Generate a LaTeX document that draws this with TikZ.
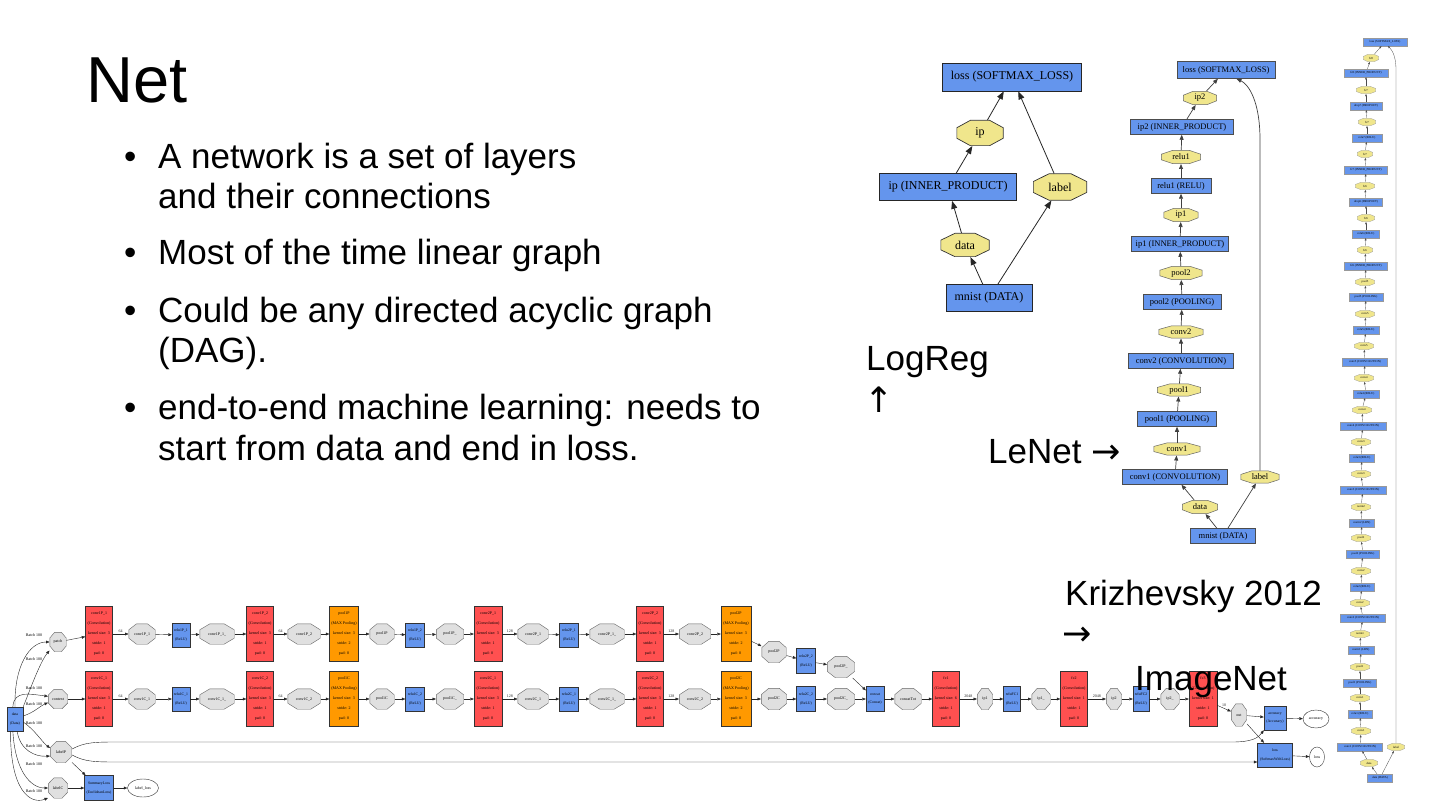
\documentclass[tikz,border=0pt]{standalone}
\usepackage{fontspec}
\setmainfont{Liberation Sans}
\newfontfamily\gv{Liberation Serif}
\newfontfamily\arrowf{DejaVu Sans}
\usetikzlibrary{arrows.meta,calc,shapes.geometric}
\definecolor{lblue}{HTML}{6495ED}
\definecolor{khaki}{HTML}{F0E68C}
\definecolor{blobgray}{HTML}{E0E0E0}
\definecolor{convred}{HTML}{FF5050}
\definecolor{poolorange}{HTML}{FF9900}
\newcommand\convlab[4]{#1\\(Convolution)\\kernel size: #2\\stride: #3\\pad: #4}
\newcommand\poollab[4]{#1\\(MAX Pooling)\\kernel size: #2\\stride: #3\\pad: #4}
\tikzset{
 oct/.style n args={3}{rectangle, inner sep=0pt, outer sep=0pt, path picture={
   \path[fill=#1, draw=#2, line width=#3] let \p1=($(path picture bounding box.south west)+(.3pt,.3pt)$), \p2=($(path picture bounding box.north east)+(-.3pt,-.3pt)$), \n1={\x2-\x1}, \n2={\y2-\y1} in (\x1+.293*\n1,\y1) -- (\x2-.293*\n1,\y1) -- (\x2,\y1+.293*\n2) -- (\x2,\y2-.293*\n2) -- (\x2-.293*\n1,\y2) -- (\x1+.293*\n1,\y2) -- (\x1,\y2-.293*\n2) -- (\x1,\y1+.293*\n2) -- cycle;}},
 txt/.style={anchor=base west, inner sep=0pt, font=\fontsize{35}{42}\selectfont},
 lrbox/.style={rectangle, draw=black!85, fill=lblue, line width=.7pt, inner sep=0pt, font=\gv\fontsize{12}{12}\selectfont},
 lrblob/.style={oct={khaki}{black!80}{.7pt}, font=\gv\fontsize{12}{12}\selectfont},
 lrarr/.style={-{Triangle[length=8pt,width=6pt]}, line width=.8pt, black!85},
 lnbox/.style={rectangle, draw=black!70, fill=lblue, line width=.5pt, inner sep=0pt, minimum height=15, font=\gv\fontsize{8.5}{8.5}\selectfont},
 lnblob/.style={oct={khaki}{black!60}{.5pt}, minimum height=14, font=\gv\fontsize{8.5}{8.5}\selectfont},
 lnarr/.style={-{Triangle[length=5pt,width=4pt]}, line width=.7pt, black!75},
 tbox/.style={rectangle, draw=black!40, fill=lblue, line width=.25pt, inner sep=0pt, minimum height=8, font=\gv\fontsize{3}{3}\selectfont},
 tblob/.style={oct={khaki}{black!40}{.25pt}, minimum height=8, font=\gv\fontsize{3}{3}\selectfont},
 tarr/.style={-{Triangle[length=2.2pt,width=1.8pt]}, line width=.3pt, black!70},
 gred/.style={rectangle, draw=black!80, fill=convred, line width=.4pt, inner sep=0pt, minimum width=27, minimum height=55, align=center, font=\gv\fontsize{4}{10}\selectfont},
 gorange/.style={gred, fill=poolorange},
 gblue/.style={rectangle, draw=black!80, fill=lblue, line width=.4pt, inner sep=0pt, minimum width=18, minimum height=24, align=center, font=\gv\fontsize{3.8}{8.5}\selectfont},
 gblob/.style={oct={blobgray}{black!60}{.4pt}, minimum width=27, minimum height=21, font=\gv\fontsize{4}{4}\selectfont},
 gell/.style={ellipse, draw=black!80, line width=.4pt, inner sep=0pt, font=\gv\fontsize{4}{4}\selectfont},
 garr/.style={-{Triangle[length=3.5pt,width=2.8pt]}, line width=.4pt, black!85},
 glbl/.style={inner sep=0pt, font=\gv\fontsize{4}{4}\selectfont},
}
\begin{document}
\begin{tikzpicture}[x=1pt,y=-1pt]
\useasboundingbox (0,0) rectangle (1440,810);
\fill[white] (0,0) rectangle (1440,810);

% ---------------- LogReg ----------------
\node[lrbox, minimum width=139, minimum height=28] (lrloss) at (1012,77) {loss (SOFTMAX\_LOSS)};
\node[lrblob, minimum width=47, minimum height=26] (lrip) at (980,133) {ip};
\node[lrbox, minimum width=137, minimum height=27] (lripl) at (948,187) {ip (INNER\_PRODUCT)};
\node[lrblob, minimum width=54, minimum height=27] (lrlabel) at (1060,187) {label};
\node[lrblob, minimum width=49, minimum height=24] (lrdata) at (965,245) {data};
\node[lrbox, minimum width=86, minimum height=27] (lrmnist) at (989,298) {mnist (DATA)};
\draw[lrarr] (lrmnist) -- (lrdata);
\draw[lrarr] (lrmnist) -- (lrlabel);
\draw[lrarr] (lrdata) -- (lripl);
\draw[lrarr] (lripl) -- (lrip);
\draw[lrarr] (lrip) -- (lrloss);
\draw[lrarr] (lrlabel) -- (lrloss);

% ---------------- LeNet ----------------
\node[lnbox, minimum width=98, minimum height=17] (lloss) at (1226,70) {loss (SOFTMAX\_LOSS)};
\node[lnblob, minimum width=34] (lip2) at (1200,98) {ip2};
\node[lnbox, minimum width=103] (lip2b) at (1182,127) {ip2 (INNER\_PRODUCT)};
\node[lnblob, minimum width=40] (lrelu1) at (1181,157) {relu1};
\node[lnbox, minimum width=60] (lrelu1b) at (1181,186) {relu1 (RELU)};
\node[lnblob, minimum width=35] (lip1) at (1181,215) {ip1};
\node[lnbox, minimum width=97] (lip1b) at (1180,244) {ip1 (INNER\_PRODUCT)};
\node[lnblob, minimum width=43] (lpool2) at (1181,273) {pool2};
\node[lnbox, minimum width=78] (lpool2b) at (1182,302) {pool2 (POOLING)};
\node[lnblob, minimum width=45, minimum height=13] (lconv2) at (1181,332) {conv2};
\node[lnbox, minimum width=105] (lconv2b) at (1181,361) {conv2 (CONVOLUTION)};
\node[lnblob, minimum width=44, minimum height=13] (lpool1) at (1179,390) {pool1};
\node[lnbox, minimum width=79] (lpool1b) at (1177,419) {pool1 (POOLING)};
\node[lnblob, minimum width=47, minimum height=13] (lconv1) at (1177,449) {conv1};
\node[lnbox, minimum width=105] (lconv1b) at (1175,477) {conv1 (CONVOLUTION)};
\node[lnblob, minimum width=39, minimum height=13] (llabel) at (1260,477) {label};
\node[lnblob, minimum width=36] (ldata) at (1200,507) {data};
\node[lnbox, minimum width=65] (lmnist) at (1223,536) {mnist (DATA)};
\foreach \aa/\bb in {lmnist/ldata, lmnist/llabel, ldata/lconv1b, lconv1b/lconv1, lconv1/lpool1b, lpool1b/lpool1, lpool1/lconv2b, lconv2b/lconv2, lconv2/lpool2b, lpool2b/lpool2, lpool2/lip1b, lip1b/lip1, lip1/lrelu1b, lrelu1b/lrelu1, lrelu1/lip2b, lip2b/lip2, lip2/lloss}
  {\draw[lnarr] (\aa) -- (\bb);}
\coordinate (lnbend) at (1260,140);
\draw[lnarr] (llabel.north) -- (lnbend) .. controls (1260,100) and (1248,84) .. (lloss.-40);

% ---------------- tall network ----------------
\foreach \ii/\xx/\yy/\ww/\ss/\lab in {
1/1385/42/44/tbox/loss (SOFTMAX\_LOSS),
2/1371/58/16/tblob/fc8,
3/1366/73/44/tbox/fc8 (INNER\_PRODUCT),
4/1366/90/20/tblob/fc7,
5/1366/106/32/tbox/drop7 (DROPOUT),
6/1367/122/18/tblob/fc7,
7/1367/138/30/tbox/relu7 (RELU),
8/1365/154/16/tblob/fc7,
9/1366/170/43/tbox/fc7 (INNER\_PRODUCT),
10/1365/186/20/tblob/fc6,
11/1366/202/33/tbox/drop6 (DROPOUT),
12/1366/218/18/tblob/fc6,
13/1366/234/27/tbox/relu6 (RELU),
14/1365/250/16/tblob/fc6,
15/1366/266/43/tbox/fc6 (INNER\_PRODUCT),
16/1365/282/20/tblob/pool5,
17/1366/297/34/tbox/pool5 (POOLING),
18/1365/314/20/tblob/conv5,
19/1366/330/26/tbox/relu5 (RELU),
20/1364/346/20/tblob/conv5,
21/1365/362/45/tbox/conv5 (CONVOLUTION),
22/1364/378/20/tblob/conv4,
23/1366/394/26/tbox/relu4 (RELU),
24/1362/410/20/tblob/conv4,
25/1363/426/46/tbox/conv4 (CONVOLUTION),
26/1361/442/20/tblob/conv3,
27/1362/458/25/tbox/relu3 (RELU),
28/1361/474/20/tblob/conv3,
29/1363/490/46/tbox/conv3 (CONVOLUTION),
30/1361/507/20/tblob/norm2,
31/1362/523/25/tbox/norm2 (LRN),
32/1361/538/20/tblob/pool2,
33/1363/554/33/tbox/pool2 (POOLING),
34/1361/571/20/tblob/conv2,
35/1362/587/24/tbox/relu2 (RELU),
36/1360/603/20/tblob/conv2,
37/1363/618/45/tbox/conv2 (CONVOLUTION),
38/1360/634/20/tblob/norm1,
39/1361/650/26/tbox/norm1 (LRN),
40/1360/667/20/tblob/pool1,
41/1360/683/33/tbox/pool1 (POOLING),
42/1360/698/20/tblob/conv1,
43/1360/714/24/tbox/relu1 (RELU),
44/1361/731/20/tblob/conv1,
45/1360/747/45/tbox/conv1 (CONVOLUTION),
46/1369/763/18/tblob/data,
47/1380/778/25/tbox/data (DATA)}
  {\node[\ss, minimum width=\ww] (t\ii) at (\xx,\yy) {\lab};}
\node[tblob, minimum width=18] (tlabel) at (1396,747) {label};
\foreach \ii in {2,...,47}{\pgfmathtruncatemacro\jj{\ii-1}\draw[tarr] (t\ii) -- (t\jj);}
\draw[tarr] (t47) -- (tlabel);
\coordinate (tbend) at (1396,70);
\draw[tarr] (tlabel.north) -- (tbend) .. controls (1396,56) and (1392,50) .. (t1.-55);

% ---------------- bottom network ----------------
\node[gblue, minimum width=16] (data) at (15,719) {data\\(Data)};
\node[gblob, minimum width=17, minimum height=20] (patch) at (58,642) {patch};
\node[gblob, minimum width=20, minimum height=20] (context) at (58,699) {context};
\node[gblob, minimum width=22, minimum height=22] (labelP) at (61,752) {labelP};
\node[gblob, minimum width=20, minimum height=21] (labelC) at (58,788) {labelC};
\node[gblue, minimum width=29, minimum height=25] (sumL) at (99,788) {SummaryLoss\\(EuclideanLoss)};
\node[gell, minimum width=31, minimum height=18] (lblLoss) at (143,788) {label\_loss};

% row P
\node[gred] (rP1) at (99,634) {\convlab{conv1P\_1}{3}{1}{0}};
\node[gblob, minimum width=27] (oP1) at (142,634) {conv1P\_1};
\node[gblue] (bP1) at (181,635) {relu1P\_1\\(ReLU)};
\node[gblob, minimum width=35] (oP1b) at (217,634) {conv1P\_1\_};
\node[gred] (rP2) at (260,634) {\convlab{conv1P\_2}{3}{1}{0}};
\node[gblob, minimum width=33] (oP2) at (304,634) {conv1P\_2};
\node[gorange, minimum width=29] (yP1) at (344,634) {\poollab{pool1P}{3}{2}{0}};
\node[gblob, minimum width=25] (oP3) at (382,634) {pool1P};
\node[gblue, minimum width=19] (bP2) at (415,635) {relu1P\_2\\(ReLU)};
\node[gblob, minimum width=28] (oP3b) at (450,634) {pool1P\_};
\node[gred, minimum width=28] (rP3) at (488,634) {\convlab{conv2P\_1}{3}{1}{0}};
\node[gblob, minimum width=31] (oP4) at (533,634) {conv2P\_1};
\node[gblue, minimum width=19] (bP3) at (569,635) {relu2P\_1\\(ReLU)};
\node[gblob, minimum width=35] (oP4b) at (607,634) {conv2P\_1\_};
\node[gred] (rP4) at (650,634) {\convlab{conv2P\_2}{3}{1}{0}};
\node[gblob, minimum width=32] (oP5) at (695,634) {conv2P\_2};
\node[gorange, minimum width=30] (yP2) at (736,634) {\poollab{pool2P}{3}{2}{0}};
\node[gblob, minimum width=25, minimum height=22] (oP6) at (774,652) {pool2P};
\node[gblue, minimum width=19, minimum height=25] (bP4) at (806,661) {relu2P\_2\\(ReLU)};
\node[gblob, minimum width=28, minimum height=22] (oP6b) at (841,667) {pool2P\_};

% row C
\node[gred] (rC1) at (99,699) {\convlab{conv1C\_1}{3}{1}{0}};
\node[gblob, minimum width=27] (oC1) at (142,699) {conv1C\_1};
\node[gblue] (bC1) at (181,699) {relu1C\_1\\(ReLU)};
\node[gblob, minimum width=35] (oC1b) at (217,699) {conv1C\_1\_};
\node[gred] (rC2) at (260,699) {\convlab{conv1C\_2}{3}{1}{0}};
\node[gblob, minimum width=33] (oC2) at (304,699) {conv1C\_2};
\node[gorange, minimum width=29] (yC1) at (344,699) {\poollab{pool1C}{3}{2}{0}};
\node[gblob, minimum width=25] (oC3) at (382,699) {pool1C};
\node[gblue, minimum width=19] (bC2) at (415,699) {relu1C\_2\\(ReLU)};
\node[gblob, minimum width=28] (oC3b) at (450,699) {pool1C\_};
\node[gred, minimum width=28] (rC3) at (488,699) {\convlab{conv2C\_1}{3}{1}{0}};
\node[gblob, minimum width=31] (oC4) at (533,699) {conv2C\_1};
\node[gblue, minimum width=19] (bC3) at (569,699) {relu2C\_1\\(ReLU)};
\node[gblob, minimum width=35] (oC4b) at (607,699) {conv2C\_1\_};
\node[gred] (rC4) at (650,699) {\convlab{conv2C\_2}{3}{1}{0}};
\node[gblob, minimum width=32] (oC5) at (695,699) {conv2C\_2};
\node[gorange, minimum width=30] (yC2) at (736,699) {\poollab{pool2C}{3}{2}{0}};
\node[gblob, minimum width=26, minimum height=22] (oC6) at (774,699) {pool2C};
\node[gblue, minimum width=19, minimum height=25] (bC4) at (806,699) {relu2C\_2\\(ReLU)};
\node[gblob, minimum width=28, minimum height=22] (oC6b) at (841,699) {pool2C\_};

% merged part
\node[gblue, minimum width=18, minimum height=25] (concat) at (875,699) {concat\\(Concat)};
\node[gblob, minimum width=27, minimum height=22] (oTot) at (908,699) {concatTot};
\node[gred] (rF1) at (946,699) {\convlab{fc1}{6}{1}{0}};
\node[gblob, minimum width=16, minimum height=22] (oI1) at (985,699) {ip1};
\node[gblue, minimum width=17, minimum height=25] (bF1) at (1012,699) {reluFC1\\(ReLU)};
\node[gblob, minimum width=19, minimum height=22] (oI1b) at (1041,699) {ip1\_};
\node[gred] (rF2) at (1074,699) {\convlab{fc2}{1}{1}{0}};
\node[gblob, minimum width=16, minimum height=22] (oI2) at (1114,699) {ip2};
\node[gblue, minimum width=16, minimum height=25] (bF2) at (1141,699) {reluFC2\\(ReLU)};
\node[gblob, minimum width=19, minimum height=22] (oI2b) at (1170,699) {ip2\_};
\node[gred, minimum width=28] (rF3) at (1203,699) {\convlab{fc3}{1}{1}{0}};
\node[gblob, minimum width=16, minimum height=23] (out) at (1239,715) {out};
\node[gblue, minimum width=22, minimum height=24] (acc) at (1275,718) {accuracy\\(Accuracy)};
\node[gell, minimum width=26, minimum height=18] (accE) at (1316,719) {accuracy};
\node[gblue, minimum width=35, minimum height=24] (loss) at (1275,755) {loss\\(SoftmaxWithLoss)};
\node[gell, minimum width=15, minimum height=20] (lossE) at (1317,757) {loss};

\foreach \aa/\bb in {patch/rP1, oP1/bP1, bP1/oP1b, oP1b/rP2, oP2/yP1, yP1/oP3, oP3/bP2, bP2/oP3b, oP3b/rP3, oP4/bP3, bP3/oP4b, oP4b/rP4, oP5/yP2, yP2/oP6, oP6/bP4, bP4/oP6b, oP6b/concat,
  context/rC1, oC1/bC1, bC1/oC1b, oC1b/rC2, oC2/yC1, yC1/oC3, oC3/bC2, bC2/oC3b, oC3b/rC3, oC4/bC3, bC3/oC4b, oC4b/rC4, oC5/yC2, yC2/oC6, oC6/bC4, bC4/oC6b, oC6b/concat,
  concat/oTot, oTot/rF1, oI1/bF1, bF1/oI1b, oI1b/rF2, oI2/bF2, bF2/oI2b, oI2b/rF3, out/acc, out/loss, acc/accE, loss/lossE, labelP/sumL, labelC/sumL, sumL/lblLoss}
  {\draw[garr] (\aa) -- (\bb);}
\foreach \aa/\bb/\cc in {rP1/oP1/64, rP2/oP2/64, rP3/oP4/128, rP4/oP5/128, rC1/oC1/64, rC2/oC2/64, rC3/oC4/128, rC4/oC5/128, rF1/oI1/2048, rF2/oI2/2048, rF3/out/10}
  {\draw[garr] (\aa) -- node[glbl, above=1.5pt]{\cc} (\bb);}

% data fan-out
\draw[garr] (data.north) .. controls (14,665) and (30,642) .. (patch.west);
\draw[garr] (data.north east) .. controls (30,690) and (40,662) .. (patch.-135);
\draw[garr] (data.100) .. controls (14,690) and (30,694) .. (context.165);
\draw[garr] (data.20) .. controls (35,712) and (40,706) .. (context.-160);
\draw[garr] (data.-20) .. controls (35,730) and (42,742) .. (labelP.160);
\draw[garr] (data.-80) .. controls (20,750) and (35,757) .. (labelP.-160);
\draw[garr] (data.-100) .. controls (15,770) and (30,788) .. (labelC.west);
\draw[garr] (data.-110) .. controls (10,790) and (30,805) .. (labelC.-135);
\foreach \yy [count=\k] in {635,659,688,704,723,746,764,791}
  {\node[glbl] (batch\k) at (34,\yy) {Batch 100};}

% long label edges
\coordinate (lpa) at (120,742);
\coordinate (lpb) at (1232,742);
\draw[garr] (labelP.15) .. controls (85,742) and (95,742) .. (lpa) -- (lpb) .. controls (1252,742) and (1258,738) .. (acc.south west);
\coordinate (lpc) at (120,762);
\draw[garr] (labelP.-15) .. controls (85,762) and (95,762) .. (lpc) -- ($(loss.west)+(0,7)$);

% ---------------- slide text ----------------
\node[txt, font=\fontsize{65}{65}\selectfont] (title) at (86,103) {Net};
\node[txt] (bu1) at (124,169) {•};
\node[txt] (l1a) at (158,169) {A network is a set of layers};
\node[txt] (l1b) at (158,209) {and their connections};
\node[txt] (bu2) at (124,265) {•};
\node[txt] (l2) at (158,265) {Most of the time linear graph};
\node[txt] (bu3) at (124,322) {•};
\node[txt] (l3a) at (158,322) {Could be any directed acyclic graph};
\node[txt] (l3b) at (158,362) {(DAG).};
\node[txt] (bu4) at (124,419) {•};
\node[txt] (l4a) at (158,419) {end-to-end machine learning: needs to};
\node[txt] (l4b) at (158,460) {start from data and end in loss.};
\node[txt] (logreg) at (866,370) {LogReg};
\node[txt, font=\arrowf\fontsize{35}{35}\selectfont] (uparr) at (864,412) {↑};
\node[txt] (lenet) at (988,463) {LeNet {\arrowf →}};
\node[txt] (kriz) at (1065,605) {Krizhevsky 2012};
\node[txt, font=\arrowf\fontsize{35}{35}\selectfont] (rarr) at (1062,645) {→};
\node[txt] (imnet) at (1135,690) {ImageNet};
\end{tikzpicture}
\end{document}
